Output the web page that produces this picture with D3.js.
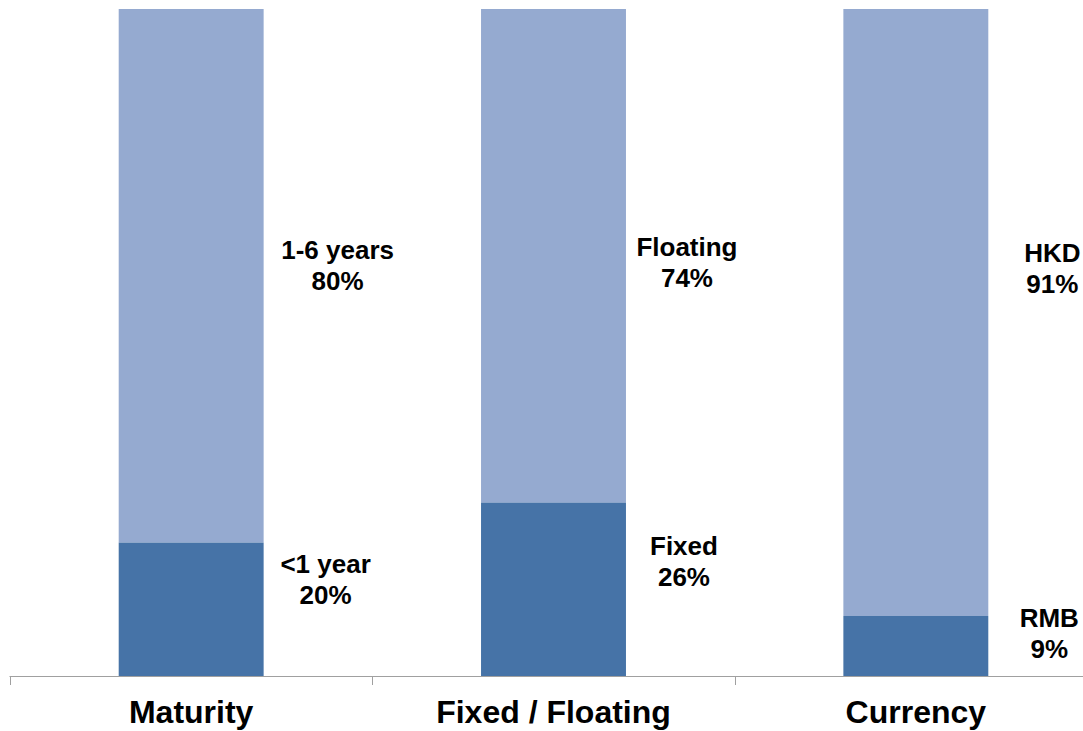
<!DOCTYPE html>
<html><head><meta charset="utf-8">
<script src="https://cdn.jsdelivr.net/npm/d3@7"></script>
<style>body{margin:0;background:#fff}svg{display:block}text{font-family:Arial,"Liberation Sans",sans-serif;font-weight:bold;fill:#000}</style>
</head><body><svg id="c" width="1083" height="731"></svg>
<script>
const categories = ["Maturity", "Fixed / Floating", "Currency"];
const lowerValues = [20, 26, 9];
const upperValues = [80, 74, 91];
const lowerNames = ["<1 year", "Fixed", "RMB"];
const upperNames = ["1-6 years", "Floating", "HKD"];
// label anchor heights in data units (percent)
const lowerLabelAt = [13.0, 15.8, 5.0];
const upperLabelAt = [60.1, 60.5, 59.7];
const lowerLabelDx = [62, 58, 61];
const upperLabelDx = [74, 61, 64];

const svg = d3.select("#c");
const x = d3.scaleBand().domain(categories).range([10, 1097]).paddingInner(0.6).paddingOuter(0.3);
const y = d3.scaleLinear().domain([0, 100]).range([676, 9]);
const dark = "#4673a7", light = "#95aad0";

const g = svg.append("g");
categories.forEach((c, i) => {
  g.append("rect").attr("x", x(c)).attr("width", x.bandwidth())
    .attr("y", y(lowerValues[i] + upperValues[i])).attr("height", y(lowerValues[i]) - y(lowerValues[i] + upperValues[i]))
    .attr("fill", light);
  g.append("rect").attr("x", x(c)).attr("width", x.bandwidth())
    .attr("y", y(lowerValues[i])).attr("height", y(0) - y(lowerValues[i]))
    .attr("fill", dark);
  const right = x(c) + x.bandwidth();
  [[upperNames[i], upperValues[i], upperLabelAt[i], upperLabelDx[i]],
   [lowerNames[i], lowerValues[i], lowerLabelAt[i], lowerLabelDx[i]]].forEach(([n, v, at, dx]) => {
    const t = g.append("text").attr("text-anchor", "middle").style("font-size", "26px");
    const cy = y(at);
    t.append("tspan").attr("x", right + dx).attr("y", cy - 16).text(n);
    t.append("tspan").attr("x", right + dx).attr("y", cy + 15).text(v + "%");
  });
});

// axis
const step = x.step();
const off = step * x.paddingInner() / 2;
svg.append("line").attr("x1", 9.5).attr("x2", 1083).attr("y1", y(0) + 0.5).attr("y2", y(0) + 0.5)
  .attr("stroke", "#a0a0a0").attr("stroke-width", 1);
categories.forEach(c => {
  const tx = Math.round(x(c) - off) + 0.5;
  svg.append("line").attr("x1", tx).attr("x2", tx).attr("y1", y(0)).attr("y2", y(0) + 9)
    .attr("stroke", "#a0a0a0");
});
const ax = svg.append("g").attr("transform", `translate(0,${y(0)})`)
  .call(d3.axisBottom(x).tickSize(0).tickPadding(0));
ax.select(".domain").remove();
ax.selectAll("text").attr("y", 47).attr("dy", null)
  .style("font-size", "32px").style("font-family", "Arial, 'Liberation Sans', sans-serif")
  .style("font-weight", "bold").attr("fill", "#000");
</script></body></html>
